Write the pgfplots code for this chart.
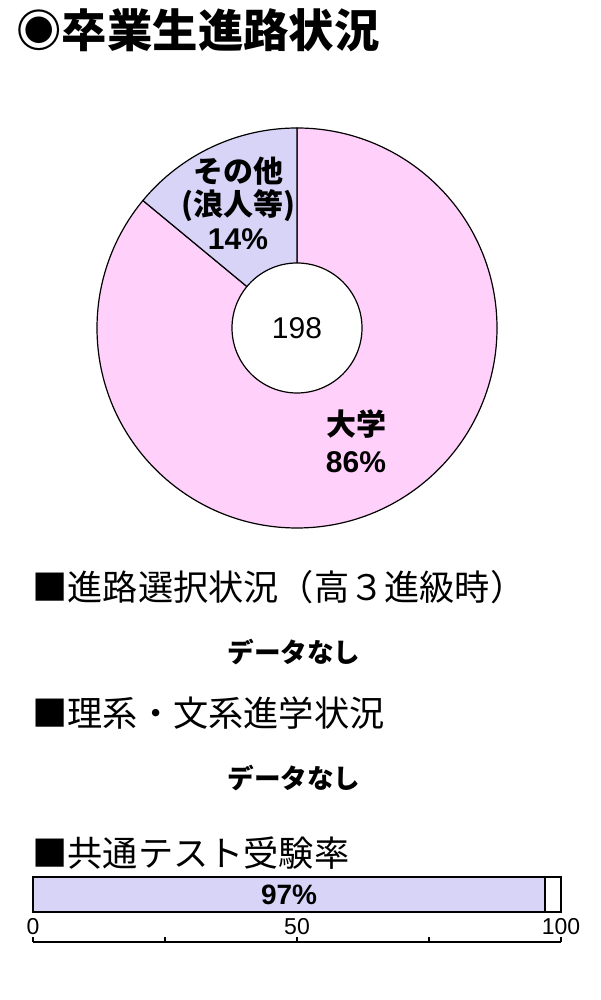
\documentclass[border=0pt]{standalone}
\usepackage{fontspec}
\setmainfont{Liberation Sans}
\newfontfamily\cjk{Noto Sans CJK JP}
\usepackage{pgfplots}
\pgfplotsset{compat=1.18}
\usepackage{pgfplotstable}

\definecolor{pinkfill}{RGB}{255,208,250}
\definecolor{lavfill}{RGB}{216,212,248}

% share of graduates: university, other (ronin etc.)
\pgfplotstableread{
share
86
14
}\pathdata

\begin{document}
\begin{tikzpicture}
\path[use as bounding box] (0,0) rectangle (300pt,500pt);

\node[anchor=west, inner sep=0pt, font=\cjk\bfseries\fontsize{22.7}{26}\selectfont] at (8pt,485pt) {◉卒業生進路状況};

\pgfplotstablegetelem{0}{share}\of\pathdata
\pgfmathsetmacro\angA{90-3.6*\pgfplotsretval}

% donut
\begin{axis}[
    at={(148.5pt,336pt)}, anchor=center,
    x=0.5pt, y=0.5pt,
    xmin=-200, xmax=200, ymin=-200, ymax=200,
    hide axis, clip=false]
    \filldraw[fill=pinkfill, draw=black, line width=0.6pt]
        (axis cs:0,0) -- ++(90:100pt) arc[start angle=90, end angle=\angA, radius=100pt] -- cycle;
    \filldraw[fill=lavfill, draw=black, line width=0.6pt]
        (axis cs:0,0) -- ++(\angA:100pt) arc[start angle=\angA, end angle=-270, radius=100pt] -- cycle;
    \filldraw[fill=white, draw=black, line width=0.6pt] (axis cs:0,0) circle[radius=32.5pt];
    \node[font=\fontsize{15}{16}\selectfont] at (axis cs:0,0) {198};
    \node[align=center, font=\bfseries\fontsize{15}{16.75}\selectfont] at (axis cs:-59,125)
        {{\cjk その他}\\{\cjk (浪人等)}\\14\%};
    \node[align=center, font=\bfseries\fontsize{15}{18.5}\selectfont] at (axis cs:59,-113.5)
        {{\cjk 大学}\\86\%};
\end{axis}

\node[anchor=west, inner sep=0pt, font=\cjk\fontsize{17.6}{19}\selectfont] at (16pt,206.5pt) {■進路選択状況（高３進級時）};
\node[inner sep=0pt, font=\cjk\bfseries\fontsize{13.3}{15}\selectfont] at (147pt,174pt) {データなし};
\node[anchor=west, inner sep=0pt, font=\cjk\fontsize{17.6}{19}\selectfont] at (16pt,143.5pt) {■理系・文系進学状況};
\node[inner sep=0pt, font=\cjk\bfseries\fontsize{13.3}{15}\selectfont] at (147pt,111pt) {データなし};
\node[anchor=west, inner sep=0pt, font=\cjk\fontsize{17.6}{19}\selectfont] at (16pt,73.5pt) {■共通テスト受験率};

% test-taking rate bar
\begin{axis}[
    at={(16.5pt,29pt)}, anchor=south west,
    x=2.64pt, y=0.5pt,
    xmin=0, xmax=100, ymin=0, ymax=65,
    axis y line=none, axis x line*=bottom,
    xtick={0,25,50,75,100}, xticklabels={0,,50,,100},
    tick align=inside, major tick length=2.5pt,
    axis line style={line width=0.8pt},
    xtick style={line width=0.8pt, black},
    xticklabel style={anchor=south, inner sep=0pt, yshift=3.5pt, font=\fontsize{11.5}{13}\selectfont},
    xbar stacked, bar width=17.5pt, clip=false]
    \addplot[fill=lavfill, draw=black, line width=0.8pt] coordinates {(97,47.5)};
    \addplot[fill=white, draw=black, line width=0.8pt] coordinates {(3,47.5)};
    \coordinate (lab97) at (axis cs:48.5,47.5);
\end{axis}
\node[font=\bfseries\fontsize{14}{16}\selectfont] at (lab97) {97\%};
\end{tikzpicture}
\end{document}
